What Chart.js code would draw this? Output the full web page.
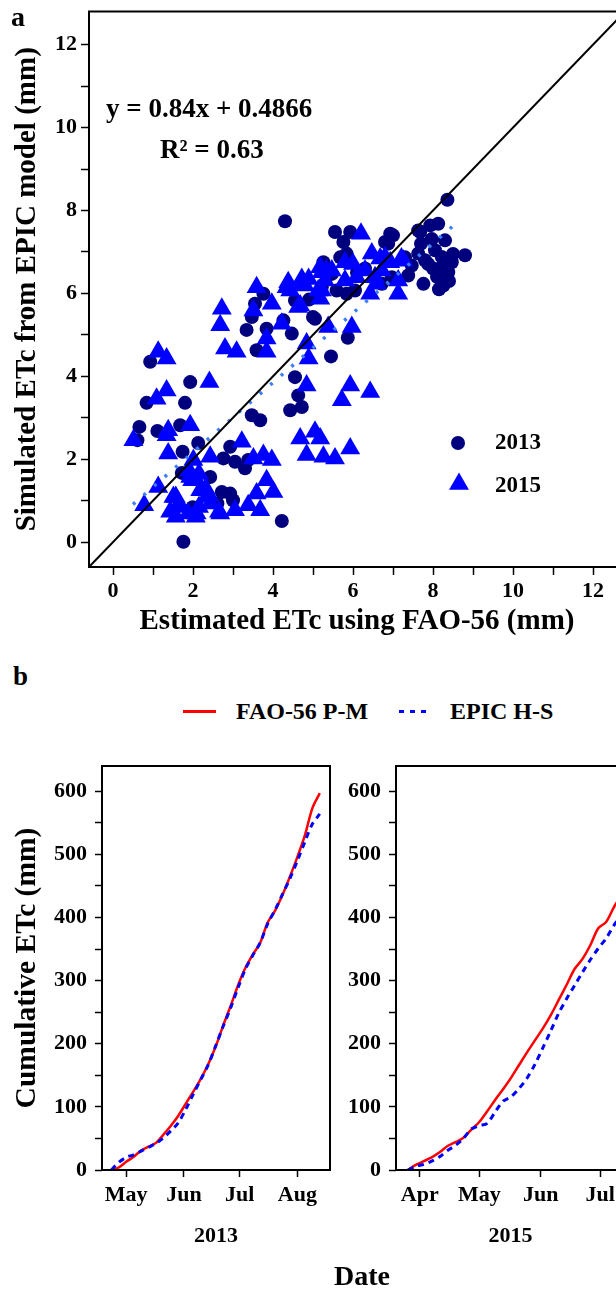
<!DOCTYPE html>
<html>
<head>
<meta charset="utf-8">
<script src="https://cdn.jsdelivr.net/npm/chart.js@4.4.0/dist/chart.umd.min.js"></script>
<style>
  html, body { margin: 0; padding: 0; background: #fff; overflow: hidden; }
  body { width: 616px; height: 1289px; position: relative; font-family: "Liberation Serif", "Times New Roman", serif; font-weight: bold; color: #000; }
  canvas { position: absolute; }
  .txt { position: absolute; white-space: nowrap; }
</style>
</head>
<body>
<canvas id="scatter" width="640" height="645" style="left:0;top:0"></canvas>
<canvas id="cum2013" width="345" height="549" style="left:0;top:740px"></canvas>
<canvas id="cum2015" width="300" height="549" style="left:340px;top:740px"></canvas>

<div class="txt" style="left:11px;top:0;font-size:28px;line-height:34px">a</div>
<div class="txt" style="left:106px;top:92px;font-size:27px;line-height:32px">y = 0.84x + 0.4866</div>
<div class="txt" style="left:160px;top:133px;font-size:27px;line-height:32px">R² = 0.63</div>

<div class="txt" style="left:13px;top:660px;font-size:27px;line-height:32px">b</div>
<div style="position:absolute;left:183px;top:710px;width:33px;height:3px;background:#ff0000"></div>
<div class="txt" style="left:236px;top:697px;font-size:24px;line-height:28px">FAO-56 P-M</div>
<div style="position:absolute;left:399px;top:710px;width:28px;height:3px;background:repeating-linear-gradient(to right,#0000ff 0 5px,transparent 5px 11px)"></div>
<div class="txt" style="left:450px;top:697px;font-size:24px;line-height:28px">EPIC H-S</div>
<div class="txt" style="left:334px;top:1259px;font-size:28px;line-height:34px">Date</div>

<script>
// Panel a: simulated vs estimated ETc (mm), [FAO-56, EPIC]
const obs2013 = [
  [0.93,4.35],[0.66,2.78],[0.84,3.36],[1.11,2.68],[1.93,3.86],[1.8,3.36],[1.68,2.82],[1.74,2.18],
  [1.72,1.67],[2.13,2.39],[2.43,1.57],[1.76,0.01],[1.99,0.84],[2.72,1.21],[2.93,1.17],[3.0,1.01],
  [2.76,2.02],[2.93,2.30],[3.05,1.94],[3.3,1.78],[3.38,1.98],[3.47,3.06],[3.68,2.94],[3.34,5.12],
  [3.47,5.43],[3.55,5.75],[3.76,5.99],[3.59,4.63],[3.84,5.15],[4.26,5.35],[4.47,5.03],[4.55,3.98],
  [4.63,3.54],[4.72,3.26],[4.43,3.18],[4.22,0.51],[4.55,5.83],[5.05,5.39],[0.61,2.46],[2.61,0.93],
  [4.3,7.74],[5.55,7.48],[5.93,7.48],[5.76,7.24],[5.84,6.96],[5.26,6.75],[6.8,7.24],[7.0,7.4],
  [6.88,7.2],[7.68,7.48],[7.93,7.64],[8.13,7.68],[8.36,8.26],[7.7,7.2],[7.97,7.31],[8.3,7.28],
  [7.63,6.96],[8.05,7.04],[8.22,6.88],[8.8,6.92],[8.47,6.75],[7.88,6.71],[8.22,6.63],[8.38,6.51],
  [8.26,6.19],[7.76,6.23],[7.38,6.43],[7.47,6.67],[7.3,6.87],[5.47,6.47],[5.22,6.15],[5.59,6.07],
  [5.84,5.99],[6.05,6.07],[5.87,4.93],[5.45,4.48],[6.97,6.39],[6.72,6.23],[6.93,7.44],[7.63,7.52],
  [8.22,6.23],[5.68,6.87],[8.0,6.6],[8.1,6.4],[8.5,6.95],[8.4,6.3],[8.15,6.1],[7.8,6.8],
  [6.3,6.6],[6.1,6.5],[4.9,5.85],[5.0,5.43]
];
const obs2015 = [
  [0.51,2.46],[0.78,0.89],[1.13,4.59],[1.34,4.43],[1.09,3.46],[1.34,3.66],[1.38,2.7],[1.34,2.58],
  [1.38,2.14],[1.13,1.33],[1.51,1.09],[1.93,2.82],[2.01,1.98],[2.43,2.06],[2.41,3.86],[2.72,5.63],
  [2.68,5.23],[2.8,4.67],[3.09,4.59],[3.22,2.42],[3.51,2.02],[3.76,2.1],[3.97,1.98],[3.84,1.49],
  [4.01,1.21],[3.59,1.17],[3.68,0.77],[3.38,0.89],[3.05,0.77],[2.68,0.69],[2.18,1.25],[2.09,1.49],
  [1.93,1.57],[1.68,0.85],[1.88,0.69],[2.09,0.69],[1.43,0.73],[2.34,1.09],[2.43,0.93],[3.51,5.59],
  [3.97,5.75],[3.84,4.91],[3.84,4.59],[4.22,5.27],[3.59,6.15],[4.34,6.15],[4.68,5.71],[4.76,6.23],
  [4.84,4.79],[4.89,4.43],[4.84,3.78],[4.68,2.5],[4.84,2.1],[5.05,2.66],[1.9,1.73],[2.15,1.65],
  [1.98,1.49],[2.32,1.29],[2.4,1.13],[1.57,1.09],[1.65,0.93],[1.57,0.61],[2.07,0.61],[2.15,0.85],
  [2.65,0.73],[6.2,7.44],[6.47,6.96],[5.8,6.75],[6.0,6.71],[5.22,6.51],[5.47,6.55],[4.72,6.35],
  [4.89,6.35],[4.38,6.27],[4.43,6.07],[4.8,6.19],[5.3,6.31],[5.22,6.07],[5.18,5.87],[4.63,5.67],
  [5.8,6.31],[6.09,6.39],[6.3,6.55],[6.68,6.84],[6.8,6.87],[6.72,6.55],[6.55,6.39],[6.59,6.23],
  [6.43,5.99],[7.13,5.99],[7.13,6.31],[7.26,6.79],[6.93,6.75],[5.38,5.19],[5.97,5.19],[5.93,3.78],
  [5.72,3.42],[6.43,3.62],[5.18,2.5],[5.26,2.06],[5.55,2.02],[5.93,2.26],[5.13,6.07],[7.21,6.84],
  [5.18,6.63],[5.34,6.55]
];
const oneToOne = [[-0.6,-0.6],[13,13]];
const fitLine = [[0.5,0.91],[8.6,7.71]];   // y = 0.84x + 0.4866
const scatterTicks = [0,1,2,3,4,5,6,7,8,9,10,11,12];

// Panel b: cumulative ETc (mm) by day of year
const dates2013 = [113,117,121,125,129,133,137,141,145,149,153,157,161,165,169,173,177,181,185,189,193,197,201,205,209,213,217,221,225];
const fao2013   = [0,4,13,21,31,37,43,56,70,86,105,124,144,167,195,228,259,292,320,341,360,392,411,436,465,496,530,573,597];
const epic2013  = [0,12,20,24,30,36,42,51,62,75,96,120,143,166,196,227,256,288,318,340,360,390,412,437,462,490,520,548,564];
const dates2015 = [85,89,93,97,101,105,109,113,117,121,125,129,133,137,141,145,149,153,157,161,165,169,173,177,181,185,189,193];
const fao2015   = [0,8,14,20,28,38,44,51,64,76,93,111,128,146,166,186,205,224,245,269,293,318,334,356,383,393,417,436];
const epic2015  = [0,6,9,14,21,31,39,50,65,70,74,92,109,116,129,145,167,193,220,248,271,292,313,333,351,367,388,406];
const monthTicks2013 = [121,152,182,213];
const monthNames2013 = ['May','Jun','Jul','Aug'];
const monthTicks2015 = [91,121,152,182];
const monthNames2015 = ['Apr','May','Jun','Jul'];
const cumTicks = [0,50,100,150,200,250,300,350,400,450,500,550,600];

const NAVY = '#00007f';
const BLUE = '#0000ff';
const FONT = 'Liberation Serif';

Chart.defaults.font.family = FONT;
Chart.defaults.font.weight = 'bold';
Chart.defaults.color = '#000';
Chart.defaults.animation = false;

const toXY = arr => arr.map(p => ({x: p[0], y: p[1]}));
const zipXY = (xs, ys) => xs.map((x, i) => ({x: x, y: ys[i]}));

const framePlugin = {
  id: 'frame',
  afterDraw(chart) {
    const {ctx, chartArea: a} = chart;
    ctx.save();
    ctx.strokeStyle = '#000';
    ctx.lineWidth = 2;
    ctx.strokeRect(a.left, a.top, a.right - a.left, a.bottom - a.top);
    ctx.restore();
  }
};

const markerLegend = {
  id: 'markerLegend',
  afterDraw(chart) {
    const ctx = chart.ctx;
    ctx.save();
    ctx.fillStyle = NAVY;
    Chart.helpers.drawPoint(ctx, {pointStyle: 'circle', radius: 7, rotation: 0, borderWidth: 0}, 458, 443);
    ctx.fillStyle = BLUE;
    Chart.helpers.drawPoint(ctx, {pointStyle: 'triangle', radius: 11.5, rotation: 0, borderWidth: 0}, 459, 484);
    ctx.fillStyle = '#000';
    ctx.font = 'bold 23px "' + FONT + '"';
    ctx.textBaseline = 'middle';
    ctx.fillText('2013', 495, 443);
    ctx.fillText('2015', 495, 486);
    ctx.restore();
  }
};

function tickGrid(len) {
  return {display: true, drawOnChartArea: false, drawTicks: true, tickLength: len, tickWidth: 1.5, tickColor: '#000'};
}

// fixed axis size, and no extra room asked for the end labels
function fixSize(w, h) {
  return s => {
    if (w) s.width = w;
    if (h) s.height = h;
    s.paddingTop = 0; s.paddingBottom = 0; s.paddingLeft = 0; s.paddingRight = 0;
  };
}

// Panel a
new Chart(document.getElementById('scatter'), {
  type: 'scatter',
  data: {
    datasets: [
      {data: toXY(oneToOne), showLine: true, borderColor: '#000', borderWidth: 2, pointRadius: 0},
      {data: toXY(fitLine), showLine: true, borderColor: '#3d7eff', borderWidth: 3.5, borderDash: [3, 11], pointRadius: 0},
      {label: '2015', data: toXY(obs2015), pointStyle: 'triangle', pointRadius: 11.5, backgroundColor: BLUE, borderWidth: 0},
      {label: '2013', data: toXY(obs2013), pointStyle: 'circle', pointRadius: 7, backgroundColor: NAVY, borderWidth: 0}
    ]
  },
  options: {
    responsive: false,
    layout: {padding: {top: 11, right: 15, bottom: 6, left: 0}},
    plugins: {legend: {display: false}, tooltip: {enabled: false}},
    scales: {
      x: {
        type: 'linear', min: -0.6, max: 12.8,
        afterBuildTicks: s => { s.ticks = scatterTicks.map(v => ({value: v})); },
        afterFit: fixSize(0, 72),
        ticks: {font: {size: 22}, padding: 3, maxRotation: 0, autoSkip: false,
                callback: v => (v % 2 === 0 ? v : '')},
        grid: tickGrid(8), border: {display: false},
        title: {display: true, text: 'Estimated ETc using FAO-56 (mm)', font: {size: 29}, padding: 0}
      },
      y: {
        type: 'linear', min: -0.6, max: 12.8,
        afterBuildTicks: s => { s.ticks = scatterTicks.map(v => ({value: v})); },
        afterFit: fixSize(89, 0),
        ticks: {font: {size: 22}, padding: 4, autoSkip: false,
                callback: v => (v % 2 === 0 ? v : '')},
        grid: tickGrid(8), border: {display: false},
        title: {display: true, text: 'Simulated ETc from EPIC model (mm)', font: {size: 29}, padding: {top: 10, bottom: 0}}
      }
    }
  },
  plugins: [framePlugin, markerLegend]
});

// Panel b
function cumChart(id, dates, fao, epic, tickVals, tickNames, xMin, xMax, yWidth, yTitle, year) {
  return new Chart(document.getElementById(id), {
    type: 'line',
    data: {
      datasets: [
        {data: zipXY(dates, epic), borderColor: BLUE, borderWidth: 3, borderDash: [6, 5], pointRadius: 0, tension: 0.3},
        {data: zipXY(dates, fao), borderColor: '#ff0000', borderWidth: 2.5, pointRadius: 0, tension: 0.3}
      ]
    },
    options: {
      responsive: false,
      layout: {padding: {top: 26, right: 15, bottom: 39, left: 0}},
      plugins: {legend: {display: false}, tooltip: {enabled: false}},
      scales: {
        x: {
          type: 'linear', min: xMin, max: xMax,
          afterBuildTicks: s => { s.ticks = tickVals.map(v => ({value: v})); },
          afterFit: fixSize(0, 80),
          ticks: {font: {size: 22}, padding: 5, maxRotation: 0, autoSkip: false,
                  callback: v => tickNames[tickVals.indexOf(v)]},
          grid: tickGrid(7), border: {display: false},
          title: {display: true, text: year, font: {size: 22}, padding: 0}
        },
        y: {
          type: 'linear', min: 0, max: 640,
          afterBuildTicks: s => { s.ticks = cumTicks.map(v => ({value: v})); },
          afterFit: fixSize(yWidth, 0),
          ticks: {font: {size: 22}, padding: 8, autoSkip: false,
                  callback: v => (v % 100 === 0 ? v : '')},
          grid: tickGrid(7), border: {display: false},
          title: {display: !!yTitle, text: yTitle, font: {size: 29.5}, padding: {top: 10, bottom: 0}}
        }
      }
    },
    plugins: [framePlugin]
  });
}

cumChart('cum2013', dates2013, fao2013, epic2013, monthTicks2013, monthNames2013, 108, 230.5, 102, 'Cumulative ETc (mm)', '2013');
cumChart('cum2015', dates2015, fao2015, epic2015, monthTicks2015, monthNames2015, 79, 194.5, 56, '', '2015');
</script>
</body>
</html>
